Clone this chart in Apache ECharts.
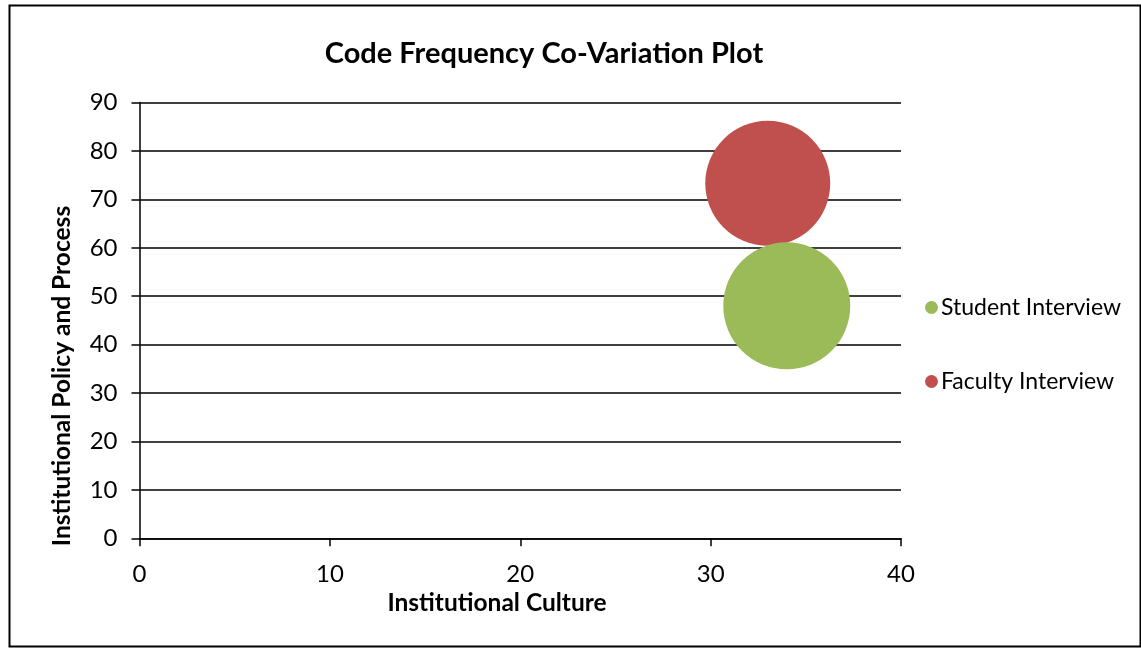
<!DOCTYPE html>
<html>
<head>
<meta charset="utf-8">
<script src="https://cdn.jsdelivr.net/npm/echarts@6/dist/echarts.min.js"></script>
<style>
html,body{margin:0;padding:0;background:#fff;}
#chart{width:1141px;height:649px;}
</style>
</head>
<body>
<div id="chart"></div>
<script>
const seriesNames = ['Student Interview', 'Faculty Interview'];
const seriesColors = ['#9BBB59', '#C0504D'];
const studentData = [[34, 48, 32]];
const facultyData = [[33, 73.3, 31]];
const xTicks = [0, 10, 20, 30, 40];
const yTicks = [0, 10, 20, 30, 40, 50, 60, 70, 80, 90];
const titleText = 'Code Frequency Co-Variation Plot';
const xTitle = 'Institutional Culture';
const yTitle = 'Institutional Policy and Process';

const FONT = 'Lato, "Open Sans", sans-serif';
const maxSize = 32, maxDiam = 127;
const sizeFn = v => Math.sqrt(v[2] / maxSize) * maxDiam;

const chart = echarts.init(document.getElementById('chart'));
chart.setOption({
  animation: false,
  backgroundColor: '#fff',
  title: {
    text: titleText, left: 539, top: 34, textAlign: 'center',
    textStyle: {fontFamily: FONT, fontSize: 29, fontWeight: 'bold', color: '#000'}
  },
  legend: {
    orient: 'vertical', left: 920, top: 291, itemGap: 51,
    icon: 'circle', itemWidth: 13, itemHeight: 13,
    textStyle: {fontFamily: FONT, fontSize: 23, color: '#000', padding: [0,0,0,-2]},
    data: seriesNames
  },
  grid: {left: 139.5, right: 240, top: 102.5, bottom: 110.7, containLabel: false},
  xAxis: {
    type: 'value', min: xTicks[0], max: xTicks[xTicks.length-1], interval: 10,
    axisLine: {show: true, onZero: false, lineStyle: {color: '#000', width: 1.5}},
    axisTick: {show: true, length: 8, lineStyle: {color: '#000', width: 1.5}},
    axisLabel: {fontFamily: FONT, fontSize: 24, color: '#000', margin: 24},
    splitLine: {show: false}
  },
  yAxis: {
    type: 'value', min: yTicks[0], max: yTicks[yTicks.length-1], interval: 10,
    axisLine: {show: true, onZero: false, lineStyle: {color: '#000', width: 1.5}},
    axisTick: {show: true, length: 8, lineStyle: {color: '#000', width: 1.5}},
    axisLabel: {fontFamily: FONT, fontSize: 24, color: '#000', margin: 22},
    splitLine: {show: true, lineStyle: {color: '#000', width: 1.5}}
  },
  graphic: [
    {type: 'rect', shape: {x: 9.5, y: 5.5, width: 1131, height: 641}, style: {fill: 'none', stroke: '#000', lineWidth: 2}, silent: true, z: 100},
    {type: 'text', x: 497, y: 603, style: {text: xTitle, font: 'bold 24.5px ' + FONT, fill: '#000', align: 'center', verticalAlign: 'middle'}},
    {type: 'text', x: 62, y: 376, rotation: Math.PI/2, style: {text: yTitle, font: 'bold 24.5px ' + FONT, fill: '#000', align: 'center', verticalAlign: 'middle'}}
  ],
  series: [
    {name: seriesNames[0], type: 'scatter', data: studentData, symbolSize: sizeFn, itemStyle: {color: seriesColors[0], opacity: 1}, z: 3},
    {name: seriesNames[1], type: 'scatter', data: facultyData, symbolSize: sizeFn, itemStyle: {color: seriesColors[1], opacity: 1}, z: 2}
  ]
});
</script>
</body>
</html>
